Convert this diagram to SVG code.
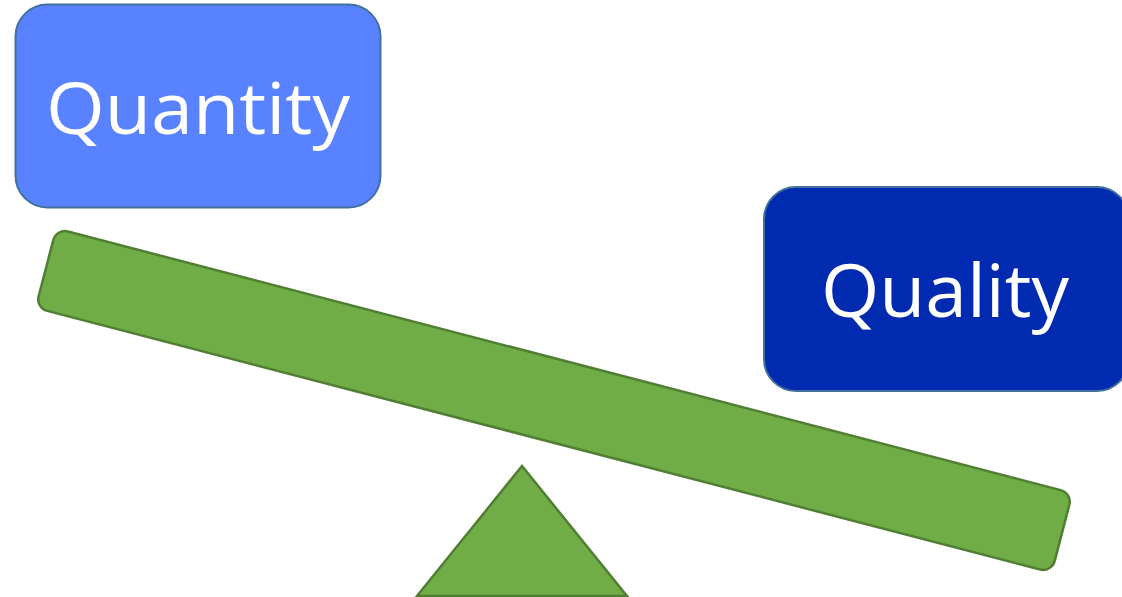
<svg xmlns="http://www.w3.org/2000/svg" width="1122" height="597" viewBox="0 0 1122 597">
<style>
.box{stroke:#41719C;stroke-width:2}
.green{fill:#70AD47;stroke:#507E32;stroke-width:2.5}
.lbl{font-family:"Open Sans","Liberation Sans",sans-serif;fill:#FFFFFF;text-anchor:middle}
</style>
<rect width="1122" height="597" fill="#FFFFFF"/>
<g id="fulcrum">
<polygon class="green" points="522,466 417,596 627,596"/>
</g>
<g id="plank">
<rect class="green" x="-525" y="-41" width="1050" height="82" rx="12" transform="translate(554,400.5) rotate(14.6)"/>
</g>
<g id="quantity">
<rect class="box" x="15.5" y="4.5" width="365" height="203" rx="32" fill="#5882FF"/>
<text class="lbl" x="198" y="134" font-size="72" textLength="304" lengthAdjust="spacingAndGlyphs">Quantity</text>
</g>
<g id="quality">
<rect class="box" x="764" y="187" width="365" height="204" rx="32" fill="#002BB0"/>
<text class="lbl" x="945" y="317" font-size="74" textLength="248" lengthAdjust="spacingAndGlyphs">Quality</text>
</g>
</svg>
